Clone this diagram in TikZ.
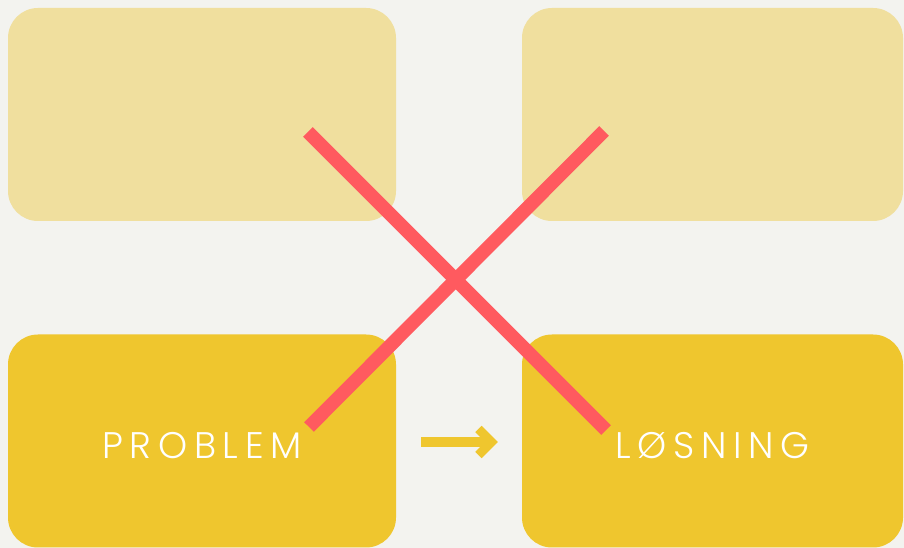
\documentclass[tikz,border=0pt]{standalone}
\usepackage{fontspec}
\setmainfont{Poppins}[UprightFont=* Light]
\usepackage{tikz}
\usetikzlibrary{arrows.meta, positioning}
\definecolor{bgpaper}{HTML}{F3F3EF}
\definecolor{palegold}{HTML}{F0DF9E}
\definecolor{gold}{HTML}{EFC62E}
\definecolor{crossred}{HTML}{FF5A5F}
\tikzstyle{ghost} = [rectangle, rounded corners=30pt, minimum width=388pt, minimum height=213pt, fill=palegold, inner sep=0pt]
\tikzstyle{card} = [rectangle, rounded corners=30pt, minimum width=388pt, minimum height=213pt, fill=gold, inner sep=0pt]
\tikzstyle{cardtext} = [text=white, yshift=-4.5pt, font={\addfontfeature{LetterSpace=18}\fontsize{37}{40}\selectfont}]
\tikzstyle{arr} = [-{Straight Barb[length=13pt, width=26pt, line width=9pt]}, line width=9.5pt, draw=gold]
\tikzstyle{strike} = [line width=13.5pt, draw=crossred]

\begin{document}
\begin{tikzpicture}[x=1pt, y=1pt]
  \useasboundingbox[fill=bgpaper] (0,0) rectangle (904,548);
  % Row 1 (faded)
  \node[ghost] (oldprob) at (202,433.5) {};
  \node[ghost, minimum width=381pt] (oldsol) at (712.5,433.5) {};
  % Row 2
  \node[card, label={[cardtext]center:PROBLEM}] (prob) at (202,107) {};
  \node[card, minimum width=381pt, label={[cardtext]center:LØSNING}] (sol) at (712.5,107) {};
  \draw[arr] ([xshift=25pt, yshift=-1pt]prob.east) -- ([xshift=-24pt, yshift=-1pt]sol.west);
  % the big cross
  \draw[strike] (308,416) -- (606,118);
  \draw[strike] (309,121) -- (604,417);
\end{tikzpicture}
\end{document}
